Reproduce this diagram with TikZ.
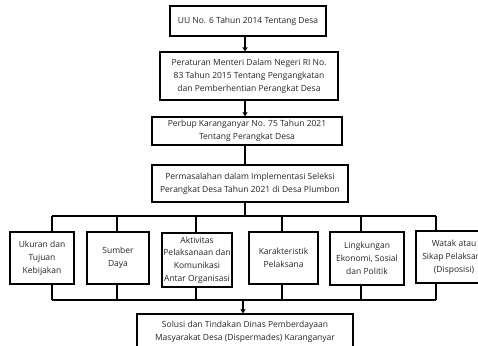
\documentclass[tikz,border=0pt]{standalone}
\usepackage{fontspec}
\setmainfont{Open Sans}
\usetikzlibrary{arrows.meta}
\begin{document}
\begin{tikzpicture}[x=1pt,y=-1pt,
  box/.style={draw=black,line width=1.3pt,fill=white,align=center,inner sep=1pt,
    font=\fontsize{8.5}{12.8}\selectfont,text=black!85},
  conn/.style={line width=1.4pt,black},
  arr/.style={conn,-{Triangle[length=4pt,width=5pt]}}]
\useasboundingbox (0,0) rectangle (478,345);
\clip (0,0) rectangle (478,345);
\node[box,minimum width=156pt,minimum height=30pt] (b1) at (248,21) {UU No. 6 Tahun 2014 Tentang Desa};
\node[box,minimum width=178pt,minimum height=48pt] (b2) at (249,76) {Peraturan Menteri Dalam Negeri RI No.\\83 Tahun 2015 Tentang Pengangkatan\\dan Pemberhentian Perangkat Desa};
\node[box,minimum width=190pt,minimum height=28pt] (b3) at (247,131) {Perbup Karanganyar No. 75 Tahun 2021\\Tentang Perangkat Desa};
\node[box,minimum width=196pt,minimum height=37pt] (b4) at (250,183.5) {Permasalahan dalam Implementasi Seleksi\\Perangkat Desa Tahun 2021 di Desa Plumbon};
\node[box,minimum width=64pt,minimum height=52pt] (A) at (42,258) {Ukuran dan\\Tujuan\\Kebijakan};
\node[box,minimum width=62pt,minimum height=52pt] (B) at (118,258) {Sumber\\Daya};
\node[box,minimum width=70pt,minimum height=54pt] (C) at (197,260) {Aktivitas\\Pelaksanaan dan\\Komunikasi\\Antar Organisasi};
\node[box,minimum width=69pt,minimum height=52pt] (D) at (283.5,258) {Karakteristik\\Pelaksana};
\node[box,minimum width=74pt,minimum height=53pt] (E) at (367,258.5) {Lingkungan\\Ekonomi, Sosial\\dan Politik};
\node[box,minimum width=76pt,minimum height=52pt] (F) at (454,257) {Watak atau\\Sikap Pelaksana\\(Disposisi)};
\node[box,minimum width=216pt,minimum height=36pt] (b5) at (245,332) {Solusi dan Tindakan Dinas Pemberdayaan\\Masyarakat Desa (Dispermades) Karanganyar};
% top bus
\coordinate (tA) at (52,216);
\coordinate (tB) at (117,216);
\coordinate (tC) at (196,216);
\coordinate (tM) at (245,216);
\coordinate (tD) at (282,216);
\coordinate (tE) at (361,216);
\coordinate (tF) at (436,216);
% bottom bus
\coordinate (uA) at (52,300);
\coordinate (uB) at (117,300);
\coordinate (uC) at (196,300);
\coordinate (uM) at (243,300);
\coordinate (uD) at (282,300);
\coordinate (uE) at (361,300);
\coordinate (uF) at (436,300);
\draw[arr] (b1.south -| tM) -- (b2.north -| tM);
\draw[arr] (b2.south -| tM) -- (b3.north -| tM);
\draw[conn] (b3.south -| tM) -- (b4.north -| tM);
\draw[conn] (b4.south -| tM) -- (tM);
\draw[conn] (tA) -- (tF);
\draw[conn] (uA) -- (uF);
\foreach \n/\s in {A/A,B/B,C/C,D/D,E/E,F/F}{
  \draw[conn] (t\s) -- (t\s |- \n.north);
  \draw[conn] (u\s |- \n.south) -- (u\s);
}
\draw[arr] (uM) -- (uM |- b5.north);
\end{tikzpicture}
\end{document}
